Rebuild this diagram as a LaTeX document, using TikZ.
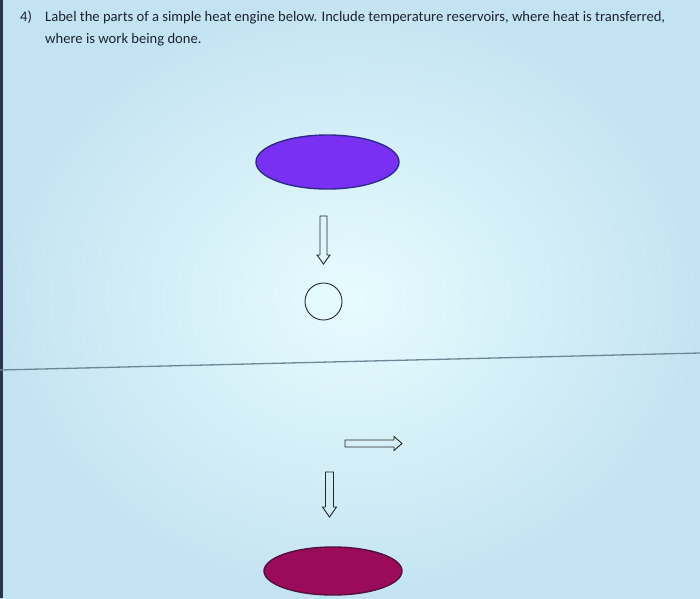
\documentclass[tikz,border=0pt]{standalone}
\usepackage{fontspec}
\setmainfont{Carlito}
\usetikzlibrary{shapes.geometric}
\definecolor{bgin}{HTML}{E6FCFE}
\definecolor{bgout}{HTML}{C4E3F2}
\definecolor{txt}{HTML}{1E2230}
\definecolor{hotfill}{HTML}{7A30F2}
\definecolor{hotline}{HTML}{2E2C8A}
\definecolor{coldfill}{HTML}{9A0B5C}
\definecolor{coldline}{HTML}{55103E}
\definecolor{rule}{HTML}{6E8796}
\definecolor{edge}{HTML}{2A3450}
\tikzset{
  reservoir/.style={ellipse, draw, line width=1.4pt, inner sep=0pt},
  blockarrow/.style={draw=black!85, line width=0.9pt, line join=miter},
  qtext/.style={anchor=base west, inner sep=0pt, text=txt, font=\fontsize{14.6}{17}\selectfont}
}
\begin{document}
\begin{tikzpicture}[x=1pt,y=1pt]
\useasboundingbox (0,0) rectangle (700,-598);
\shade[inner color=bgin, outer color=bgout] (0,0) rectangle (700,-598);
\fill[edge] (0,0) rectangle (2.5,-598);
% question text
\node[qtext] (num) at (20,-21) {4)};
\node[qtext] (q1) at (45,-21) {Label the parts of a simple heat engine below. Include temperature reservoirs, where heat is transferred,};
\node[qtext] (q2) at (45,-43) {where is work being done.};
% separator
\coordinate (sepL) at (0,-370);
\coordinate (sepR) at (700,-353);
\draw[rule, line width=1.3pt] (sepL) -- (sepR);
% hot reservoir
\node[reservoir, fill=hotfill, draw=hotline, minimum width=143pt, minimum height=54pt] (hot) at (327.5,-162) {};
% engine
\node[circle, draw=black!85, line width=0.9pt, minimum size=37pt, inner sep=0pt] (engine) at (323.5,-301.5) {};
% cold reservoir
\node[reservoir, fill=coldfill, draw=coldline, minimum width=138pt, minimum height=48pt] (cold) at (333,-571) {};
% arrow hot -> engine
\draw[blockarrow] (320,-216) -- (327,-216) -- (327,-255) -- (330,-255) -- (323.5,-264) -- (317,-255) -- (320,-255) -- cycle;
% work arrow
\draw[blockarrow] (345,-440) -- (394,-440) -- (394,-436.5) -- (402,-443.5) -- (394,-450.5) -- (394,-447) -- (345,-447) -- cycle;
% arrow engine -> cold
\draw[blockarrow] (325.5,-472) -- (333.5,-472) -- (333.5,-507) -- (336.5,-507) -- (329.5,-517) -- (322.5,-507) -- (325.5,-507) -- cycle;
\end{tikzpicture}
\end{document}
